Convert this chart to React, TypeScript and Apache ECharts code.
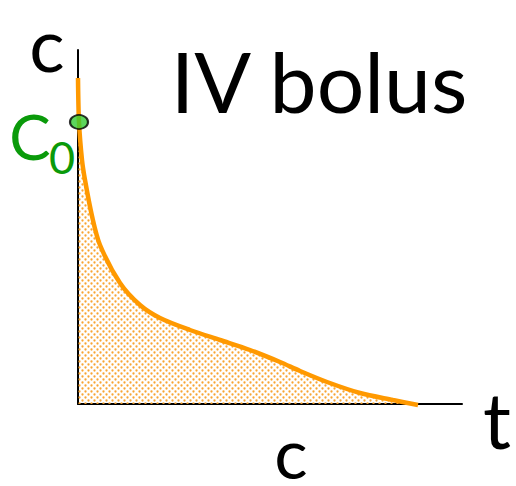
import React, { useEffect, useRef } from 'react';
import * as echarts from 'echarts';

// time (arbitrary units) and concentration (arbitrary units)
const timePoints = [0, 1, 4, 7, 14, 22, 42, 62, 82, 112, 142, 172, 202, 222, 249, 282, 315, 340];
const concentration = [326, 282, 244, 224, 188, 159, 121, 99, 86, 74, 64, 54, 42, 33, 22, 11, 4, -1];
const initialPoint = [1, 282];
const titleText = 'IV bolus';
const yName = 'c';
const xName = 't';
const bottomLabel = 'c';
const c0Main = 'C';
const c0Sub = '0';

const FONT = 'Lato, "Open Sans", sans-serif';

function makePattern(): string {
  const cv = document.createElement('canvas');
  cv.width = 6;
  cv.height = 6;
  const ctx = cv.getContext('2d')!;
  ctx.fillStyle = 'rgba(248,160,40,0.95)';
  ctx.beginPath();
  ctx.arc(1.5, 1.5, 1.15, 0, Math.PI * 2);
  ctx.fill();
  ctx.beginPath();
  ctx.arc(4.5, 4.5, 1.15, 0, Math.PI * 2);
  ctx.fill();
  return cv.toDataURL();
}

export default function App() {
  const ref = useRef<HTMLDivElement>(null);
  useEffect(() => {
    if (!ref.current) return;
    const chart = echarts.init(ref.current, undefined, { renderer: 'svg' });
    const lineData = timePoints.map((t, i) => [t, concentration[i]]);
    chart.setOption({
      animation: false,
      backgroundColor: '#ffffff',
      grid: { left: 78, right: 54, top: 50, bottom: 82, containLabel: false },
      xAxis: {
        type: 'value',
        min: 0,
        max: 384,
        axisLine: { show: true, onZero: false, lineStyle: { color: '#000', width: 2 } },
        axisTick: { show: false },
        axisLabel: { show: false },
        splitLine: { show: false },
      },
      yAxis: {
        type: 'value',
        min: 0,
        max: 354,
        axisLine: { show: true, onZero: false, lineStyle: { color: '#000', width: 2 } },
        axisTick: { show: false },
        axisLabel: { show: false },
        splitLine: { show: false },
      },
      series: [
        {
          type: 'line',
          data: lineData,
          smooth: 0.3,
          clip: false,
          showSymbol: false,
          lineStyle: { color: '#FF9900', width: 4.5 },
          areaStyle: {
            color: { image: makePattern(), repeat: 'repeat' },
            opacity: 1,
          },
          z: 2,
        },
        {
          type: 'scatter',
          data: [initialPoint],
          clip: false,
          symbol: 'circle',
          symbolSize: [18, 14],
          itemStyle: { color: '#33CC33', borderColor: '#000', borderWidth: 2 },
          z: 5,
        },
      ],
      graphic: [
        {
          type: 'text',
          x: 319,
          y: 80,
          style: { text: titleText, font: `84px ${FONT}`, fill: '#000', align: 'center', verticalAlign: 'middle' },
        },
        {
          type: 'text',
          x: 47,
          y: 43,
          style: { text: yName, font: `74px ${FONT}`, fill: '#000', align: 'center', verticalAlign: 'middle', lineHeight: 60 },
        },
        {
          type: 'text',
          x: 497,
          y: 419,
          style: { text: xName, font: `78px ${FONT}`, fill: '#000', align: 'center', verticalAlign: 'middle', lineHeight: 64 },
        },
        {
          type: 'text',
          x: 291,
          y: 452,
          style: { text: bottomLabel, font: `70px ${FONT}`, fill: '#000', align: 'center', verticalAlign: 'middle', lineHeight: 52 },
        },
        {
          type: 'text',
          x: 30,
          y: 136,
          style: { text: c0Main, font: `62px ${FONT}`, fill: '#0A9A0A', align: 'center', verticalAlign: 'middle', lineHeight: 50 },
        },
        {
          type: 'text',
          x: 62,
          y: 157,
          style: { text: c0Sub, font: `45px ${FONT}`, fill: '#0A9A0A', align: 'center', verticalAlign: 'middle', lineHeight: 36 },
        },
      ],
    });
    return () => chart.dispose();
  }, []);
  return <div ref={ref} style={{ width: 516, height: 486, position: 'absolute', left: 0, top: 0 }} />;
}
